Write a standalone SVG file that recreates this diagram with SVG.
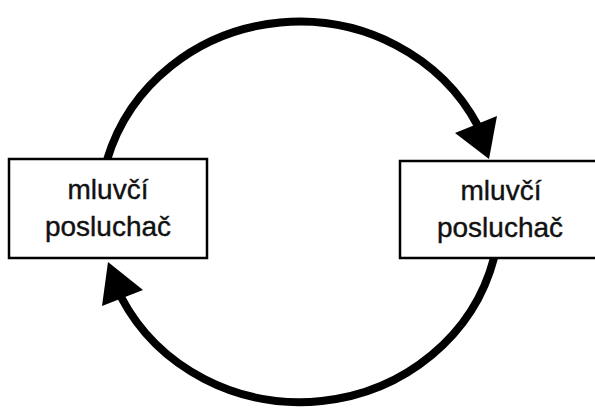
<svg xmlns="http://www.w3.org/2000/svg" width="595" height="409" viewBox="0 0 595 409">
<style>
.box{fill:#fff;stroke:#000;stroke-width:2.5}
.lbl{font-family:"Liberation Sans",Arial,sans-serif;font-size:28px;fill:#111;stroke:#111;stroke-width:0.4;text-anchor:middle}
.arc{fill:none;stroke:#000;stroke-width:8}
.head{fill:#000}
</style>
<rect width="595" height="409" fill="#fff"/>
<g id="connectors">
<path class="arc" d="M107,160 A200,190 0 0 1 478,126"/>
<polygon class="head" points="489,159 455,133 497,116"/>
<path class="arc" d="M494,258 A200,190 0 0 1 121,297"/>
<polygon class="head" points="108,262 102,306 143,290"/>
</g>
<g id="node-left">
<rect class="box" x="9" y="159" width="198" height="99"/>
<text class="lbl" x="108" y="199">mluvčí</text>
<text class="lbl" x="108" y="236">posluchač</text>
</g>
<g id="node-right">
<rect class="box" x="400" y="161" width="200" height="97"/>
<text class="lbl" x="501" y="200">mluvčí</text>
<text class="lbl" x="500" y="237">posluchač</text>
</g>
</svg>
